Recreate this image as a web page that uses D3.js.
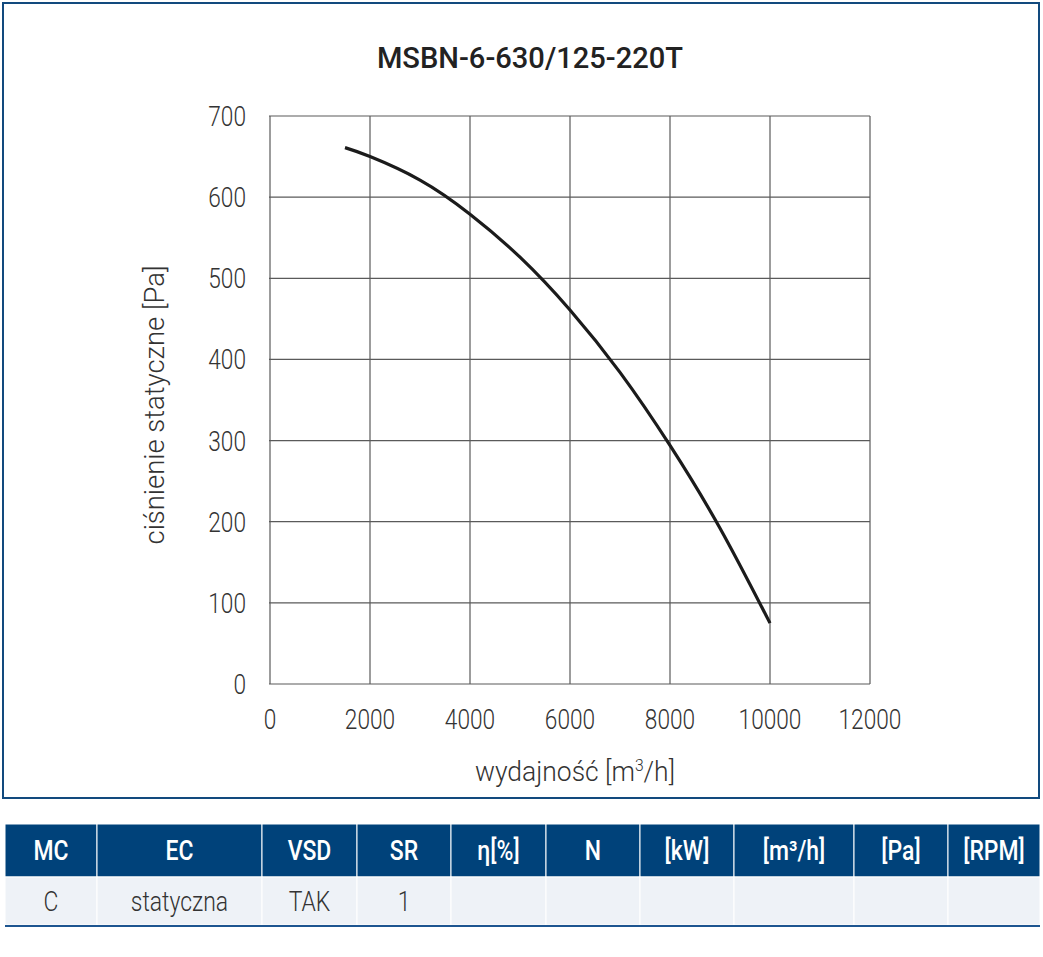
<!DOCTYPE html>
<html>
<head>
<meta charset="utf-8">
<script src="https://cdn.jsdelivr.net/npm/d3@7"></script>
<style>
  body { margin: 0; background: #fff; }
  svg text { font-family: "Roboto", "Liberation Sans", sans-serif; }
</style>
</head>
<body>
<script>
// curve
const flow = [1500, 2000, 3000, 4000, 5000, 6000, 7000, 8000, 9000, 10000];
const pressure = [661, 650, 621, 579, 526, 461, 384, 294, 192, 75];

const xTicks = [0, 2000, 4000, 6000, 8000, 10000, 12000];
const yTicks = [0, 100, 200, 300, 400, 500, 600, 700];

const title = "MSBN-6-630/125-220T";
const headers = ["MC", "EC", "VSD", "SR", "η[%]", "N", "[kW]", "[m³/h]", "[Pa]", "[RPM]"];
const rowVals = ["C", "statyczna", "TAK", "1", "", "", "", "", "", ""];
const colEdges = [5, 97, 262, 357, 451, 546, 640, 734, 854, 948, 1040];

const W = 1043, H = 957;
const svg = d3.select("body").append("svg").attr("width", W).attr("height", H);

// outer frame
svg.append("rect")
  .attr("x", 3).attr("y", 3).attr("width", 1036).attr("height", 795)
  .attr("fill", "none").attr("stroke", "#124a7e").attr("stroke-width", 2);

const x = d3.scaleLinear().domain([0, 12000]).range([270, 870]);
const y = d3.scaleLinear().domain([0, 700]).range([684, 116]);

// grid
svg.append("g").selectAll("line").data(xTicks).enter().append("line")
  .attr("x1", d => x(d)).attr("x2", d => x(d))
  .attr("y1", y(0)).attr("y2", y(700))
  .attr("stroke", "#5a5a5a").attr("stroke-width", 1.2);
svg.append("g").selectAll("line").data(yTicks).enter().append("line")
  .attr("x1", x(0) - 1).attr("x2", x(12000))
  .attr("y1", d => y(d)).attr("y2", d => y(d))
  .attr("stroke", "#5a5a5a").attr("stroke-width", 1.2);

// squeeze text a bit, the original font is a narrow one
function narrow(sel, k) {
  sel.attr("transform", function () {
    const t = d3.select(this);
    const px = +t.attr("x"), py = +t.attr("y");
    return `translate(${px},${py}) scale(${k},1) translate(${-px},${-py})`;
  });
}

// tick labels
svg.append("g").selectAll("text").data(xTicks).enter().append("text")
  .attr("x", d => x(d)).attr("y", 729)
  .attr("text-anchor", "middle")
  .attr("font-size", 27).attr("font-weight", 300).attr("fill", "#333")
  .text(d => d)
  .call(narrow, 0.84);
svg.append("g").selectAll("text").data(yTicks).enter().append("text")
  .attr("x", 246).attr("y", d => y(d) + 10)
  .attr("text-anchor", "end")
  .attr("font-size", 27).attr("font-weight", 300).attr("fill", "#333")
  .text(d => d)
  .call(narrow, 0.84);

// axis titles
const xl = svg.append("text")
  .attr("x", 575).attr("y", 781)
  .attr("text-anchor", "middle")
  .attr("font-size", 27).attr("font-weight", 300).attr("fill", "#333");
xl.append("tspan").text("wydajność [m");
xl.append("tspan").attr("font-size", 16).attr("dy", -10).text("3");
xl.append("tspan").attr("dy", 10).text("/h]");
xl.call(narrow, 0.98);

svg.append("text")
  .attr("transform", "translate(164,405) rotate(-90) scale(0.98,1)")
  .attr("text-anchor", "middle")
  .attr("font-size", 28).attr("font-weight", 300).attr("fill", "#333")
  .text("ciśnienie statyczne [Pa]");

svg.append("text")
  .attr("x", 530).attr("y", 68)
  .attr("text-anchor", "middle")
  .attr("font-size", 30).attr("font-weight", 500).attr("fill", "#222")
  .text(title)
  .call(narrow, 0.97);

// curve
const line = d3.line()
  .x((d, i) => x(flow[i]))
  .y(d => y(d))
  .curve(d3.curveNatural);
svg.append("path")
  .attr("d", line(pressure))
  .attr("fill", "none").attr("stroke", "#1b1b1b").attr("stroke-width", 3.2);

// table
const cols = headers.map((h, i) => ({ h: h, v: rowVals[i], x0: colEdges[i], x1: colEdges[i + 1] }));

const hdr = svg.append("g").selectAll("g").data(cols).enter().append("g");
hdr.append("rect")
  .attr("x", d => d.x0).attr("y", 824)
  .attr("width", d => d.x1 - d.x0).attr("height", 53)
  .attr("fill", "#00427a").attr("stroke", "#fff").attr("stroke-width", 1);
hdr.append("text")
  .attr("x", d => (d.x0 + d.x1) / 2).attr("y", 860)
  .attr("text-anchor", "middle")
  .attr("font-size", 27).attr("font-weight", 500).attr("fill", "#fff")
  .text(d => d.h)
  .call(narrow, 0.85);

const body = svg.append("g").selectAll("g").data(cols).enter().append("g");
body.append("rect")
  .attr("x", d => d.x0).attr("y", 877)
  .attr("width", d => d.x1 - d.x0).attr("height", 48)
  .attr("fill", "#eef2f7").attr("stroke", "#fff").attr("stroke-width", 1);
body.append("text")
  .attr("x", d => (d.x0 + d.x1) / 2).attr("y", 911)
  .attr("text-anchor", "middle")
  .attr("font-size", 27).attr("font-weight", 300).attr("fill", "#333")
  .text(d => d.v)
  .call(narrow, 0.85);

svg.append("line")
  .attr("x1", 5).attr("x2", 1040).attr("y1", 926).attr("y2", 926)
  .attr("stroke", "#1d5590").attr("stroke-width", 2);
</script>
</body>
</html>
